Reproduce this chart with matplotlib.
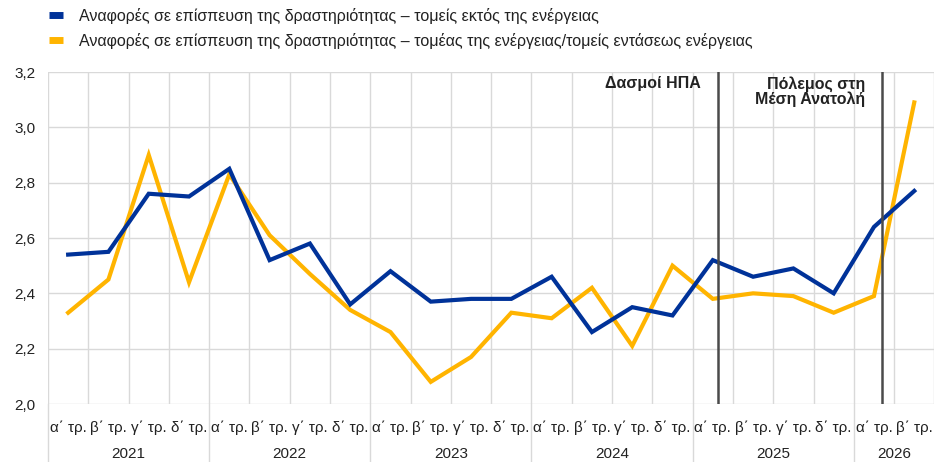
import matplotlib
matplotlib.use("Agg")
import matplotlib.pyplot as plt
from matplotlib.lines import Line2D

plt.rcParams['font.family'] = ['Liberation Sans', 'DejaVu Sans']

quarters = ["α΄ τρ.", "β΄ τρ.", "γ΄ τρ.", "δ΄ τρ."]
years = ["2021", "2022", "2023", "2024", "2025", "2026"]
quarters_per_year = [4, 4, 4, 4, 4, 2]

non_energy = [2.54, 2.55, 2.76, 2.75,
              2.85, 2.52, 2.58, 2.36,
              2.48, 2.37, 2.38, 2.38,
              2.46, 2.26, 2.35, 2.32,
              2.52, 2.46, 2.49, 2.40,
              2.64, 2.77]
energy = [2.33, 2.45, 2.90, 2.44,
          2.83, 2.61, 2.47, 2.34,
          2.26, 2.08, 2.17, 2.33,
          2.31, 2.42, 2.21, 2.50,
          2.38, 2.40, 2.39, 2.33,
          2.39, 3.09]

label_non_energy = "Αναφορές σε επίσπευση της δραστηριότητας – τομείς εκτός της ενέργειας"
label_energy = "Αναφορές σε επίσπευση της δραστηριότητας – τομέας της ενέργειας/τομείς εντάσεως ενέργειας"

events = [16.14, 20.21]
event_labels = ["Δασμοί ΗΠΑ", "Πόλεμος στη\nΜέση Ανατολή"]

yticks = [2.0, 2.2, 2.4, 2.6, 2.8, 3.0, 3.2]

BLUE = "#003299"
YELLOW = "#FFB400"
GRID = "#d9d9d9"
TXT = "#222222"

W, H = 934, 462
fig = plt.figure(figsize=(W / 100, H / 100), dpi=100)
ax = fig.add_axes([48 / W, 1 - 404 / H, 1 - 48 / W, 332 / H])

n = len(non_energy)
x = list(range(n))

ax.set_ylim(2.0, 3.2)
ax.set_xlim(-0.5, 21.49)

# grid
for v in yticks:
    ax.axhline(v, color=GRID, lw=1.0, zorder=0)
for b in range(n + 1):
    ax.axvline(b - 0.5, color=GRID, lw=1.0, zorder=0)

for s in ax.spines.values():
    s.set_visible(False)
ax.set_xticks([])
ax.set_yticks(yticks)
ax.set_yticklabels([f"{v:.1f}".replace(".", ",") for v in yticks], fontsize=11, color=TXT)
ax.tick_params(axis='y', length=0, pad=9)

ax.plot(x, non_energy, color=BLUE, lw=3.0, zorder=3, solid_joinstyle='miter')
ax.plot(x, energy, color=YELLOW, lw=3.0, zorder=2, solid_joinstyle='miter')

# events
for ev, lab in zip(events, event_labels):
    ax.axvline(ev, color="#4a4a4a", lw=1.8, zorder=4)
    ax.text(ev - 0.43, 0.988, lab, transform=ax.get_xaxis_transform(), ha='right', va='top',
            fontsize=11.5, fontweight='bold', color=TXT, linespacing=1.0)

# category axis labels
xt = ax.get_xaxis_transform()
idx = 0
for yr, nq in zip(years, quarters_per_year):
    for q in range(nq):
        ax.text(idx + q, -0.072, quarters[q], transform=xt, ha='center', va='center',
                fontsize=11, color=TXT)
    ax.text(idx + (nq - 1) / 2, -0.150, yr, transform=xt, ha='center', va='center',
            fontsize=11, color=TXT)
    ax.add_line(Line2D([idx - 0.5, idx - 0.5], [0, -0.2], transform=xt, color=GRID,
                       lw=1.0, clip_on=False))
    idx += nq

handles = [Line2D([], [], color=BLUE, lw=5, solid_capstyle='butt'),
           Line2D([], [], color=YELLOW, lw=5, solid_capstyle='butt')]
fig.legend(handles, [label_non_energy, label_energy], loc='upper left',
           bbox_to_anchor=(49 / W, 1 - 8 / H), frameon=False, fontsize=11.5,
           handlelength=0.9, handletextpad=0.95, labelspacing=0.55,
           borderpad=0, borderaxespad=0, labelcolor=TXT)

fig.savefig("out.png", dpi=100)
